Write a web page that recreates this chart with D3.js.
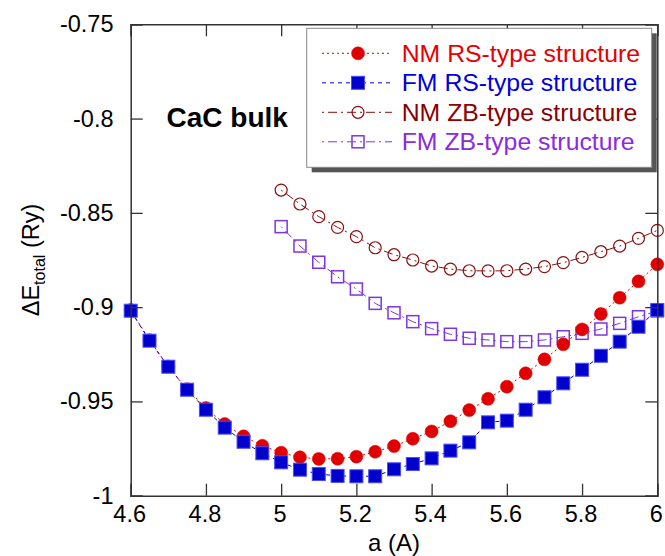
<!DOCTYPE html>
<html>
<head>
<meta charset="utf-8">
<script src="https://cdn.jsdelivr.net/npm/d3@7"></script>
<style>
  body { margin: 0; background: #fff; }
  svg { font-family: "Liberation Sans", Arial, sans-serif; }
</style>
</head>
<body>
<svg id="chart" width="665" height="556"></svg>
<script>
// lattice constants (A)
var aRS = [4.6, 4.65, 4.7, 4.75, 4.8, 4.85, 4.9, 4.95, 5.0, 5.05, 5.1, 5.15, 5.2, 5.25, 5.3,
           5.35, 5.4, 5.45, 5.5, 5.55, 5.6, 5.65, 5.7, 5.75, 5.8, 5.85, 5.9, 5.95, 6.0];
var aZB = [5.0, 5.05, 5.1, 5.15, 5.2, 5.25, 5.3, 5.35, 5.4, 5.45, 5.5,
           5.55, 5.6, 5.65, 5.7, 5.75, 5.8, 5.85, 5.9, 5.95, 6.0];

// total energy (Ry)
var nmRS = [-0.9015, -0.9175, -0.9315, -0.9435, -0.9535, -0.962, -0.9685, -0.9735, -0.9772, -0.9796,
            -0.9805, -0.9804, -0.9793, -0.9767, -0.9737, -0.9698, -0.9659, -0.9605, -0.9546, -0.9486,
            -0.9422, -0.9351, -0.9277, -0.9197, -0.9118, -0.9036, -0.895, -0.8863, -0.8773];
var fmRS = [-0.9019, -0.9178, -0.9316, -0.9438, -0.9544, -0.9639, -0.9714, -0.9775, -0.9823, -0.9862,
            -0.9885, -0.9895, -0.9897, -0.9897, -0.986, -0.9832, -0.9802, -0.9761, -0.9717, -0.9611,
            -0.9602, -0.9544, -0.9478, -0.9404, -0.9332, -0.9258, -0.9183, -0.9104, -0.9015];
var nmZB = [-0.8379, -0.8453, -0.852, -0.8577, -0.8626, -0.8685, -0.8722, -0.875, -0.8782, -0.8798, -0.8807,
            -0.8808, -0.8807, -0.8798, -0.8785, -0.8764, -0.8736, -0.8706, -0.8676, -0.8635, -0.8593];
var fmZB = [-0.8573, -0.8676, -0.8762, -0.8839, -0.8904, -0.898, -0.903, -0.9077, -0.9114, -0.9144, -0.9165,
            -0.9174, -0.9183, -0.9183, -0.9174, -0.9157, -0.9139, -0.9116, -0.9086, -0.9051, -0.902];

var xTicks = [4.6, 4.8, 5, 5.2, 5.4, 5.6, 5.8, 6];
var yTicks = [-1, -0.95, -0.9, -0.85, -0.8, -0.75];

var seriesNames = ["NM RS-type structure", "FM RS-type structure", "NM ZB-type structure", "FM ZB-type structure"];

var pLeft = 130.7, pRight = 657.3, pTop = 24.3, pBottom = 495.7;
var x = d3.scaleLinear().domain([4.6, 6]).range([pLeft, pRight]);
var y = d3.scaleLinear().domain([-1, -0.75]).range([pBottom, pTop]);

var svg = d3.select("#chart");

// series styling (draw order: back to front)
var series = [
  {name: seriesNames[3], a: aZB, e: fmZB, color: "#7d35e0", text: "#8a2be2", shape: "square", fill: false, dash: "2,4,9,4"},
  {name: seriesNames[2], a: aZB, e: nmZB, color: "#8a1010", text: "#8b0000", shape: "circle", fill: false, dash: "2,4,9,4"},
  {name: seriesNames[0], a: aRS, e: nmRS, color: "#e00000", text: "#e60000", shape: "circle", fill: true, dash: "2,3"},
  {name: seriesNames[1], a: aRS, e: fmRS, color: "#0000cc", text: "#0000dd", shape: "square", fill: true, dash: "4,4"}
];

function drawMarker(g, s) {
  if (s.shape == "circle") {
    g.append("circle")
      .attr("r", s.fill ? 6.5 : 6)
      .style("fill", s.fill ? s.color : "none")
      .style("stroke", s.color)
      .style("stroke-width", s.fill ? 0.5 : 1.2);
  } else {
    var h = s.fill ? 6.5 : 6;
    g.append("rect")
      .attr("x", -h).attr("y", -h)
      .attr("width", 2 * h).attr("height", 2 * h)
      .style("fill", s.fill ? s.color : "none")
      .style("stroke", s.fill ? "#4b4bff" : s.color)
      .style("stroke-width", s.fill ? 1 : 1.5);
  }
}

var line = d3.line().x(d => x(d[0])).y(d => y(d[1]));

series.forEach(function(s) {
  var pts = s.a.map((v, i) => [v, s.e[i]]);
  svg.append("path")
    .datum(pts)
    .attr("d", line)
    .style("fill", "none")
    .style("stroke", s.color)
    .style("stroke-width", 1)
    .style("stroke-dasharray", s.dash);

  svg.append("g").selectAll("g")
    .data(pts)
    .enter()
    .append("g")
    .attr("transform", d => "translate(" + x(d[0]) + "," + y(d[1]) + ")")
    .each(function() { drawMarker(d3.select(this), s); });
});

// frame with inward ticks on all sides
var frameColor = "#333";
var tickLen = 12;
svg.append("g").attr("transform", "translate(0," + pBottom + ")")
  .call(d3.axisBottom(x).tickValues(xTicks).tickSize(-tickLen).tickFormat(""));
svg.append("g").attr("transform", "translate(0," + pTop + ")")
  .call(d3.axisTop(x).tickValues(xTicks).tickSize(-tickLen).tickFormat(""));
svg.append("g").attr("transform", "translate(" + pLeft + ",0)")
  .call(d3.axisLeft(y).tickValues(yTicks).tickSize(-tickLen).tickFormat(""));
svg.append("g").attr("transform", "translate(" + pRight + ",0)")
  .call(d3.axisRight(y).tickValues(yTicks).tickSize(-tickLen).tickFormat(""));
svg.selectAll(".domain").style("stroke", frameColor).style("stroke-width", 1.5);
svg.selectAll(".tick line").style("stroke", frameColor).style("stroke-width", 1.3);

// tick labels
svg.append("g").selectAll("text")
  .data(xTicks)
  .enter()
  .append("text")
  .attr("x", d => x(d) - 1)
  .attr("y", 521.5)
  .attr("text-anchor", "middle")
  .style("font-size", "23.5px")
  .text(d => d);

svg.append("g").selectAll("text")
  .data(yTicks)
  .enter()
  .append("text")
  .attr("x", 113.5)
  .attr("y", d => y(d) + 8)
  .attr("text-anchor", "end")
  .style("font-size", "23.5px")
  .text(d => d);

// axis titles
svg.append("text")
  .attr("x", (pLeft + pRight) / 2)
  .attr("y", 551)
  .attr("text-anchor", "middle")
  .style("font-size", "24px")
  .text("a (A)");

var yt = svg.append("text")
  .attr("transform", "translate(39," + ((pTop + pBottom) / 2) + ") rotate(-90)")
  .attr("text-anchor", "middle")
  .style("font-size", "23.5px");
yt.append("tspan").text("\u0394E");
yt.append("tspan").attr("dy", 6).style("font-size", "16px").text("total");
yt.append("tspan").attr("dy", -6).text(" (Ry)");

// annotation
svg.append("text")
  .attr("x", 166.5)
  .attr("y", 127)
  .style("font-size", "28px")
  .style("font-weight", "bold")
  .text("CaC bulk");

// legend
var lg = svg.append("g");
lg.append("rect")
  .attr("x", 311.7).attr("y", 33.3)
  .attr("width", 345).attr("height", 139)
  .style("fill", "#555");
lg.append("rect")
  .attr("x", 306.7).attr("y", 28.3)
  .attr("width", 345).attr("height", 139)
  .style("fill", "#fff")
  .style("stroke", "#888")
  .style("stroke-width", 1);

var legendOrder = [series[2], series[3], series[1], series[0]];
legendOrder.forEach(function(s, i) {
  var ly = 53.3 + i * 29.5;
  lg.append("line")
    .attr("x1", 322).attr("x2", 392)
    .attr("y1", ly).attr("y2", ly)
    .style("stroke", s.color)
    .style("stroke-width", 1)
    .style("stroke-dasharray", s.dash);
  drawMarker(lg.append("g").attr("transform", "translate(358," + ly + ")"), s);
  lg.append("text")
    .attr("x", 401.7)
    .attr("y", ly + 8.5)
    .style("font-size", "24.8px")
    .style("fill", s.text)
    .text(s.name);
});
</script>
</body>
</html>
